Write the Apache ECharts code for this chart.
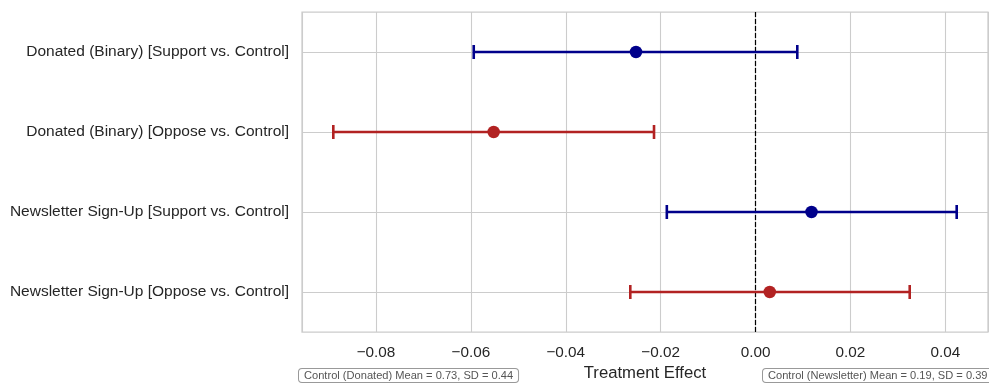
<!DOCTYPE html>
<html>
<head>
<meta charset="utf-8">
<title>Treatment Effects</title>
<script src="https://cdn.jsdelivr.net/npm/echarts@6/dist/echarts.min.js"></script>
<style>
  html, body { margin: 0; padding: 0; background: #ffffff; }
  #chart { width: 989px; height: 383px; }
</style>
</head>
<body>
<div id="chart"></div>
<script>
// Outcome / comparison rows, top to bottom
const categories = [
  'Donated (Binary) [Support vs. Control]',
  'Donated (Binary) [Oppose vs. Control]',
  'Newsletter Sign-Up [Support vs. Control]',
  'Newsletter Sign-Up [Oppose vs. Control]'
];
const comparisons = ['Support', 'Oppose', 'Support', 'Oppose'];

// Point estimates and 95% confidence bounds
const estimates = [-0.0252, -0.0552, 0.0118, 0.0030];
const ciLower   = [-0.0594, -0.0890, -0.0187, -0.0264];
const ciUpper   = [ 0.0088, -0.0214,  0.0424,  0.0325];

// Control-group summaries shown under the axis
const controlNotes = [
  'Control (Donated) Mean = 0.73, SD = 0.44',
  'Control (Newsletter) Mean = 0.19, SD = 0.39'
];

const xTitle = 'Treatment Effect';
const xMin = -0.0956;
const xMax = 0.0490;

const groupColor = { Support: '#00008B', Oppose: '#B22222' };
const FONT = '"Liberation Sans", Arial, sans-serif';
const TEXT = '#262626';
const GRID = '#cccccc';

function rowsFor(group) {
  return categories.map((c, i) => i).filter(i => comparisons[i] === group);
}

function errorBarSeries(group) {
  const color = groupColor[group];
  return {
    name: group + ' CI',
    type: 'custom',
    z: 3,
    silent: true,
    encode: { x: [0, 1], y: 2 },
    data: rowsFor(group).map(i => [ciLower[i], ciUpper[i], i]),
    renderItem: function (params, api) {
      const row = api.value(2);
      const a = api.coord([api.value(0), row]);
      const b = api.coord([api.value(1), row]);
      const cap = 7;
      const style = { stroke: color, lineWidth: 2.6, lineCap: 'butt' };
      return {
        type: 'group',
        children: [
          { type: 'line', shape: { x1: a[0], y1: a[1], x2: b[0], y2: b[1] }, style: style },
          { type: 'line', shape: { x1: a[0], y1: a[1] - cap, x2: a[0], y2: a[1] + cap }, style: style },
          { type: 'line', shape: { x1: b[0], y1: b[1] - cap, x2: b[0], y2: b[1] + cap }, style: style }
        ]
      };
    }
  };
}

function pointSeries(group) {
  return {
    name: group,
    type: 'scatter',
    z: 4,
    silent: true,
    symbol: 'circle',
    symbolSize: 12.5,
    itemStyle: { color: groupColor[group], opacity: 1 },
    data: rowsFor(group).map(i => [estimates[i], i])
  };
}

const fmt = v => {
  const s = Math.abs(v).toFixed(2);
  return (v < -1e-9 ? '\u2212' : '') + s;
};

const chart = echarts.init(document.getElementById('chart'), null, { renderer: 'canvas' });

chart.setOption({
  animation: false,
  backgroundColor: '#ffffff',
  grid: {
    left: 302, top: 12, width: 686, height: 320,
    outerBoundsMode: 'none',
    containLabel: false,
    show: true, borderColor: GRID, borderWidth: 1.25, backgroundColor: 'transparent'
  },
  xAxis: {
    type: 'value',
    min: xMin,
    max: xMax,
    splitNumber: 7,
    name: xTitle,
    nameLocation: 'middle',
    nameGap: 31,
    nameTextStyle: { fontFamily: FONT, fontSize: 16.7, color: TEXT },
    axisLine: { show: false },
    axisTick: { show: false },
    axisLabel: {
      fontFamily: FONT, fontSize: 15.3, color: TEXT, margin: 13,
      showMinLabel: false, showMaxLabel: false,
      formatter: fmt
    },
    splitLine: { show: true, lineStyle: { color: GRID, width: 1.1 } }
  },
  yAxis: {
    type: 'category',
    inverse: true,
    data: categories,
    axisLine: { show: false },
    axisTick: { show: false },
    axisLabel: { fontFamily: FONT, fontSize: 15.5, color: TEXT, margin: 13 },
    splitLine: { show: false }
  },
  series: [
    {
      // row guide lines and the zero reference line
      name: 'guides',
      type: 'scatter',
      data: [],
      silent: true,
      z: 1,
      markLine: {
        silent: true,
        symbol: 'none',
        label: { show: false },
        animation: false,
        z: 1,
        data: categories.map(c => ({ yAxis: c, lineStyle: { color: GRID, width: 1.1, type: 'solid' } }))
          .concat([{ xAxis: 0, lineStyle: { color: '#000000', width: 1.2, type: [5, 2] } }])
      }
    },
    errorBarSeries('Support'),
    errorBarSeries('Oppose'),
    pointSeries('Support'),
    pointSeries('Oppose')
  ],
  graphic: [
    {
      type: 'text', left: 298, top: 368, z: 10,
      style: {
        text: controlNotes[0], fontFamily: FONT, fontSize: 11.1, fill: '#555555',
        backgroundColor: '#ffffff', borderColor: '#999999', borderWidth: 1,
        borderRadius: 3, padding: [1, 5]
      }
    },
    {
      type: 'text', left: 762, top: 368, z: 10,
      style: {
        text: controlNotes[1], fontFamily: FONT, fontSize: 11.1, fill: '#555555',
        backgroundColor: '#ffffff', borderColor: '#999999', borderWidth: 1,
        borderRadius: 3, padding: [1, 5]
      }
    }
  ]
});
</script>
</body>
</html>
